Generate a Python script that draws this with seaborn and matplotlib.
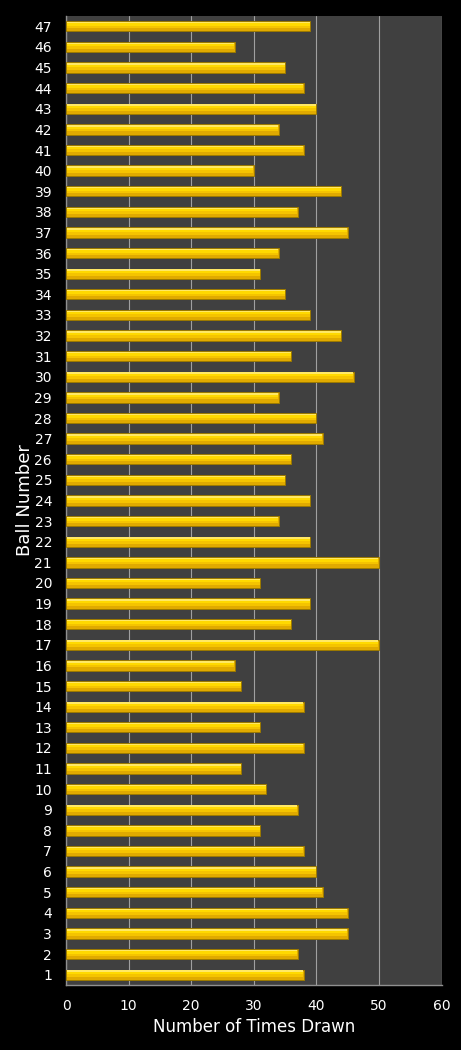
import pandas as pd
import matplotlib
matplotlib.use("Agg")
import matplotlib.pyplot as plt
import seaborn as sns

# Dados (bola 1..47)
balls = list(range(1, 48))
times_drawn = [38, 37, 45, 45, 41, 40, 38, 31, 37, 32,
               28, 38, 31, 38, 28, 27, 50, 36, 39, 31,
               50, 39, 34, 39, 35, 36, 41, 40, 34, 46,
               36, 44, 39, 35, 31, 34, 45, 37, 44, 30,
               38, 34, 40, 38, 35, 27, 39]
x_ticks = [0, 10, 20, 30, 40, 50, 60]

df = pd.DataFrame({"Ball": [str(b) for b in balls], "Times": times_drawn})
order = [str(b) for b in reversed(balls)]

sns.set_style("dark")
plt.rcParams["font.family"] = ["DejaVu Sans"]

fig = plt.figure(figsize=(4.61, 10.5), dpi=100, facecolor="black")
ax = fig.add_axes([66 / 461, 1 - 985 / 1050, (441.5 - 66) / 461, (985 - 16) / 1050])
ax.set_facecolor("#404040")

sns.barplot(data=df, x="Times", y="Ball", order=order, orient="h",
            color="#E0AA00", edgecolor="#9C7A00", linewidth=0.7,
            width=0.5, saturation=1, ax=ax, zorder=3)

# efeito de gradiente: faixas mais claras na parte de cima da barra
# (eixo y invertido: get_y() é o topo visual)
strips = [(0.08, 0.22, "#FFE866"), (0.22, 0.45, "#FFD900"), (0.45, 0.70, "#F5C400")]
for p in list(ax.patches):
    x0, y0 = p.get_x(), p.get_y()
    w, h = p.get_width(), p.get_height()
    for a, b, c in strips:
        ax.add_patch(plt.Rectangle((x0 + 0.08, y0 + h * a), w - 0.16, h * (b - a),
                                   facecolor=c, edgecolor="none", zorder=4))

ax.set_xlim(0, 60)
ax.set_xticks(x_ticks)
ax.xaxis.grid(True, color="#A0A0A0", linewidth=0.8)
ax.yaxis.grid(False)
ax.set_axisbelow(True)

for side in ["top", "right"]:
    ax.spines[side].set_visible(False)
for side in ["left", "bottom"]:
    ax.spines[side].set_visible(True)
    ax.spines[side].set_color("#909090")
    ax.spines[side].set_linewidth(1)

ax.tick_params(axis="both", colors="white", labelsize=10, length=0)
ax.tick_params(axis="x", pad=10)
ax.tick_params(axis="y", pad=10)
ax.set_xlabel("Number of Times Drawn", color="white", fontsize=12, labelpad=4)
ax.set_ylabel("Ball Number", color="white", fontsize=13, labelpad=0)

fig.savefig("out.png", dpi=100, facecolor="black")
